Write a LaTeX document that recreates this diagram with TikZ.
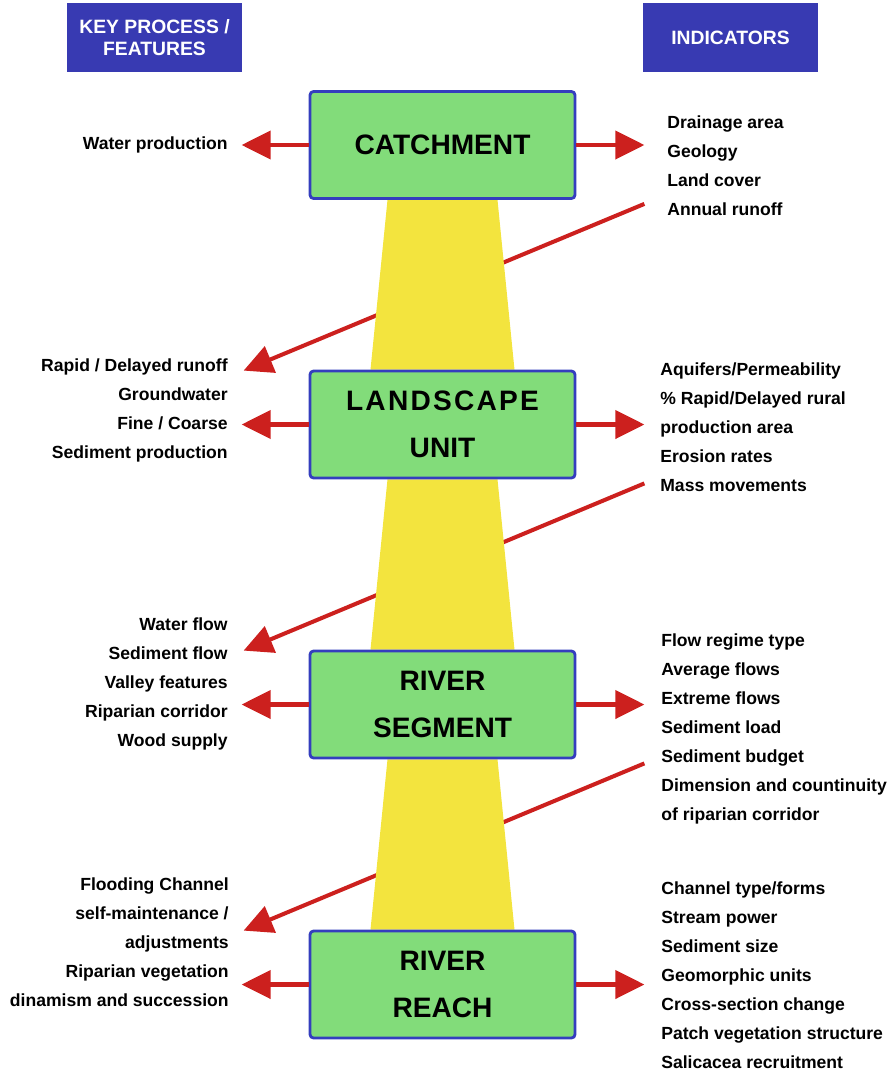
\documentclass[tikz,border=0pt]{standalone}
\usepackage{fontspec}
\setmainfont{Liberation Sans}
\usetikzlibrary{arrows.meta, calc, backgrounds}

\definecolor{boxgreen}{RGB}{130,220,122}
\definecolor{boxblue}{RGB}{52,62,190}
\definecolor{headblue}{RGB}{56,58,178}
\definecolor{funnelyellow}{RGB}{243,228,62}
\definecolor{arrowred}{RGB}{204,32,30}

\begin{document}
\begin{tikzpicture}[
    x=0.02cm, y=-0.02cm,
    level/.style={rectangle, draw=boxblue, line width=1.6pt, fill=boxgreen, rounded corners=2pt, minimum width=5.3cm, minimum height=2.14cm, align=center, font=\fontsize{16}{27}\selectfont\bfseries},
    header/.style={rectangle, fill=headblue, text=white, minimum width=3.5cm, minimum height=1.38cm, align=center, font=\fontsize{11}{12.5}\selectfont\bfseries},
    proc/.style={anchor=east, inner sep=0pt, align=right, font=\fontsize{10}{16.5}\selectfont\bfseries},
    ind/.style={anchor=west, inner sep=0pt, align=left, font=\fontsize{10}{16.5}\selectfont\bfseries},
    arrow/.style={-{Triangle[length=0.58cm, width=0.56cm]}, line width=2.3pt, draw=arrowred},
    funnel/.style={fill=funnelyellow}
  ]
  \useasboundingbox (0,0) rectangle (894,1072);

  % Column headers
  \node[header] (keyhead) at (154.5,37.5) {KEY PROCESS /\\FEATURES};
  \node[header] (indhead) at (730.5,37.5) {INDICATORS};

  % Spatial levels
  \node[level] (catch) at (442.5,145) {CATCHMENT};
  \node[level] (land) at (442.5,424.5) {{\addfontfeature{LetterSpace=8}LANDSCAPE}\\UNIT};
  \node[level] (segm) at (442.5,704.5) {RIVER\\SEGMENT};
  \node[level] (reach) at (442.5,984.5) {RIVER\\REACH};

  % Links between levels, behind the boxes
  \begin{scope}[on background layer]
    \foreach \a/\b in {catch/land, land/segm, segm/reach} {
        \draw[arrow] ($(\a.south east)+(68,4)$) -- ($(\b.north west)+(-65,1)$);
      }
    \foreach \a/\b in {catch/land, land/segm, segm/reach} {
        \fill[funnel] ($(\a.south)+(-55,0)$) -- ($(\a.south)+(55,0)$)
          -- ($(\b.north)+(72,0)$) -- ($(\b.north)+(-72,0)$) -- cycle;
      }
  \end{scope}

  % Side arrows
  \foreach \lv in {catch, land, segm, reach} {
      \coordinate (\lv L) at ($(\lv.west)+(-67,0)$);
      \coordinate (\lv R) at ($(\lv.east)+(68,0)$);
      \draw[arrow] (\lv.west) -- (\lv L);
      \draw[arrow] (\lv.east) -- (\lv R);
    }

  % Key processes / features
  \node[proc] (proc1) at (228,145) {Water production};
  \node[proc] (proc2) at (228,410) {Rapid / Delayed runoff\\Groundwater\\Fine / Coarse\\Sediment production};
  \node[proc] (proc3) at (228,684) {Water flow\\Sediment flow\\Valley features\\Riparian corridor\\Wood supply};
  \node[proc] (proc4) at (229,942.5) {Flooding Channel\\self-maintenance /\\adjustments\\Riparian vegetation\\dinamism and succession};

  % Indicators
  \node[ind] (ind1) at (667,165.5) {Drainage area\\Geology\\Land cover\\Annual runoff};
  \node[ind] (ind2) at (660,427) {Aquifers/Permeability\\\% Rapid/Delayed rural\\production area\\Erosion rates\\Mass movements};
  \node[ind] (ind3) at (661,729) {Flow regime type\\Average flows\\Extreme flows\\Sediment load\\Sediment budget\\Dimension and countinuity\\of riparian corridor};
  \node[ind] (ind4) at (661,975) {Channel type/forms\\Stream power\\Sediment size\\Geomorphic units\\Cross-section change\\Patch vegetation structure\\Salicacea recruitment};

\end{tikzpicture}
\end{document}
